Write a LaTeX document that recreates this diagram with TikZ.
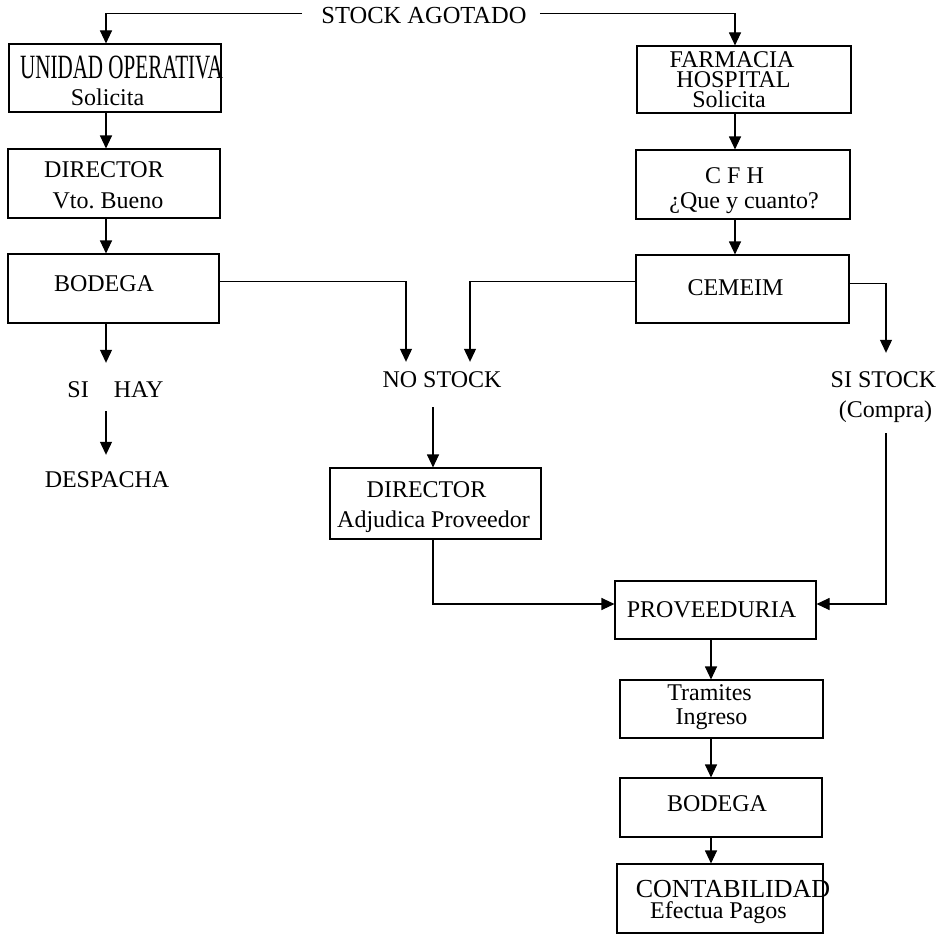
\documentclass[tikz,border=0pt]{standalone}
\usepackage{fontspec}
\usepackage{graphicx}
\setmainfont{Liberation Serif}
\usetikzlibrary{arrows.meta}

\tikzset{
  box/.style={draw, line width=1.1pt, inner sep=0pt, minimum width=#1},
  txt/.style={inner sep=0pt, anchor=base, font=\fontsize{24}{28}\selectfont},
  link/.style={line width=1.1pt},
  arr/.style={line width=1.1pt, -{Triangle[length=13pt,width=12pt]}},
}

\begin{document}
\begin{tikzpicture}[x=1pt, y=-1pt]
  \fill[white] (0,0) rectangle (945,934);
  \useasboundingbox (0,0) rectangle (945,934);

  % columns along which the vertical arrows run
  \coordinate (colL) at (106,0);
  \coordinate (colR) at (735,0);
  \coordinate (colB) at (711,0);
  \coordinate (colN) at (433,0);
  \coordinate (colS) at (886,0);
  \coordinate (nsL)  at (406,0);
  \coordinate (nsR)  at (470,0);

  % boxes
  \node[box=212pt, minimum height=68pt] (uo)   at (115,78)    {};
  \node[box=212pt, minimum height=69pt] (dir1) at (114,183.5) {};
  \node[box=211pt, minimum height=69pt] (bod1) at (113.5,288.5) {};
  \node[box=214pt, minimum height=67pt] (farm) at (744,79.5)  {};
  \node[box=214pt, minimum height=69pt] (cfh)  at (743,184.5) {};
  \node[box=213pt, minimum height=68pt] (cem)  at (742.5,289) {};
  \node[box=211pt, minimum height=71pt] (dir2) at (435.5,503.5) {};
  \node[box=201pt, minimum height=58pt] (prov) at (715.5,610) {};
  \node[box=203pt, minimum height=58pt] (tram) at (721.5,709) {};
  \node[box=202pt, minimum height=59pt] (bod2) at (721,807.5) {};
  \node[box=206pt, minimum height=69pt] (cont) at (720,898.5) {};

  % texts
  \node[txt, font=\fontsize{24.5}{28}\selectfont] (stock) at (424,24) {STOCK AGOTADO};
  \node[txt] (uoA) at (121.5,78) {\scalebox{0.62}[1]{\fontsize{34}{34}\selectfont UNIDAD OPERATIVA}};
  \node[txt] (uoB) at (107.5,105) {Solicita};
  \node[txt] (d1A) at (104,177) {DIRECTOR};
  \node[txt] (d1B) at (108,208) {Vto.\ Bueno};
  \node[txt] (b1)  at (104,291) {BODEGA};
  \node[txt, text height=34pt, text depth=14pt] (sh) at (115.5,397) {SI\hspace{25pt}HAY};
  \node[txt, text height=32pt] (desp) at (107,487) {DESPACHA};

  \node[txt] (fA) at (732,67)   {FARMACIA};
  \node[txt] (fB) at (733.5,88) {HOSPITAL};
  \node[txt] (fC) at (729,107)  {Solicita};
  \node[txt] (cA) at (734.5,183) {C F H};
  \node[txt] (cB) at (744,208)  {¿Que y cuanto?};
  \node[txt] (ce) at (735.5,295) {CEMEIM};

  \node[txt, text height=25pt, text depth=20pt] (ns) at (442,387) {NO STOCK};
  \node[txt, text height=34pt] (si1) at (883.5,387) {SI STOCK};
  \node[txt, text depth=16pt]  (si2) at (885.5,417) {(Compra)};

  \node[txt] (d2A) at (426.5,497) {DIRECTOR};
  \node[txt] (d2B) at (433.5,527) {Adjudica Proveedor};

  \node[txt] (pv) at (711.5,617) {PROVEEDURIA};
  \node[txt] (tA) at (709.5,700) {Tramites};
  \node[txt] (tB) at (711.5,724) {Ingreso};
  \node[txt] (b2) at (717,811)   {BODEGA};
  \node[txt, font=\fontsize{26}{28}\selectfont] (coA) at (733,897) {CONTABILIDAD};
  \node[txt] (coB) at (718.5,918) {Efectua Pagos};

  % connectors: left branch
  \draw[arr] ([xshift=-19pt,yshift=2.6pt]stock.west) -| (uo.north -| colL);
  \draw[arr] (uo.south -| colL) -- (dir1.north -| colL);
  \draw[arr] (dir1.south -| colL) -- (bod1.north -| colL);
  \draw[arr] (bod1.south -| colL) -- (sh.north -| colL);
  \draw[arr] (sh.south -| colL) -- (desp.north -| colL);

  % connectors: right branch
  \draw[arr] ([xshift=13pt,yshift=2.6pt]stock.east) -| (farm.north -| colR);
  \draw[arr] (farm.south -| colR) -- (cfh.north -| colR);
  \draw[arr] (cfh.south -| colR) -- (cem.north -| colR);

  % into NO STOCK and SI STOCK
  \draw[arr] ([yshift=6.8pt]bod1.east) -| (ns.north -| nsL);
  \draw[arr] ([yshift=7.3pt]cem.west) -| (ns.north -| nsR);
  \draw[arr] ([yshift=5.7pt]cem.east) -| (si1.north -| colS);

  % towards PROVEEDURIA
  \draw[arr] (ns.south -| colN) -- (dir2.north -| colN);
  \draw[arr] (dir2.south -| colN) |- ([yshift=6pt]prov.west);
  \draw[arr] (si2.south -| colS) |- ([yshift=6pt]prov.east);

  % bottom chain
  \draw[arr] (prov.south -| colB) -- (tram.north -| colB);
  \draw[arr] (tram.south -| colB) -- (bod2.north -| colB);
  \draw[arr] (bod2.south -| colB) -- (cont.north -| colB);
\end{tikzpicture}
\end{document}
